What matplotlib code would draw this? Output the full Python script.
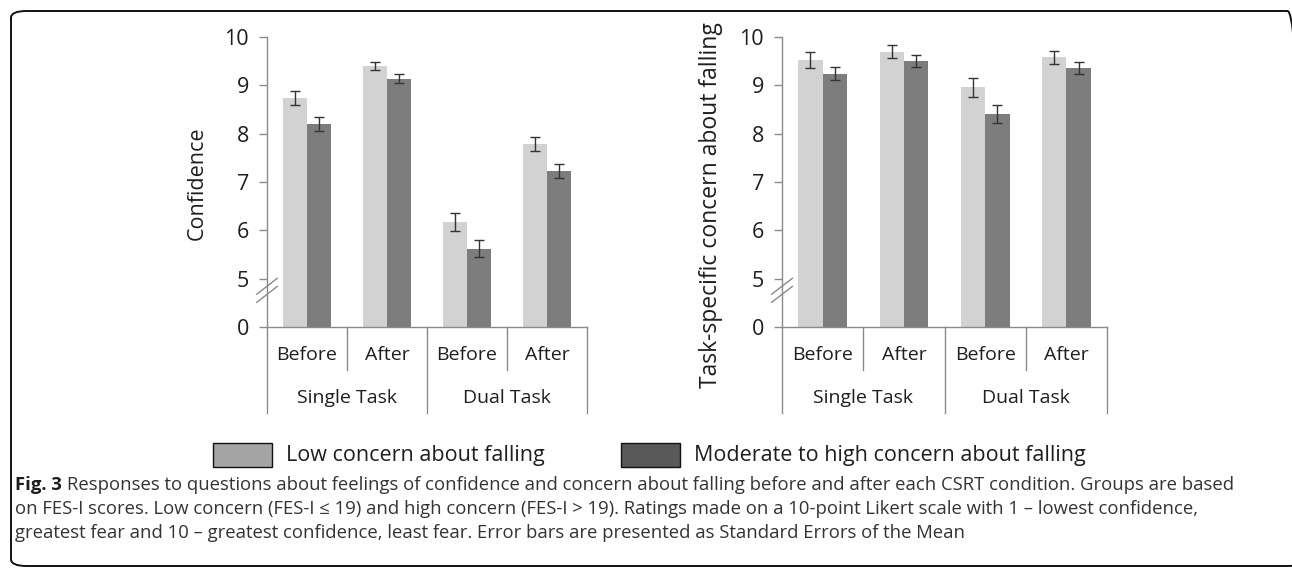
import numpy as np
import matplotlib.pyplot as plt
from matplotlib.patches import Rectangle, FancyBboxPatch

# conditions and groups
conditions = ["Before", "After", "Before", "After"]
tasks = ["Single Task", "Dual Task"]
groups = ["Low concern about falling", "Moderate to high concern about falling"]

# confidence ratings (left panel)
conf_low = [8.74, 9.40, 6.17, 7.79]
conf_low_se = [0.15, 0.08, 0.19, 0.15]
conf_high = [8.20, 9.14, 5.62, 7.23]
conf_high_se = [0.14, 0.09, 0.17, 0.14]

# task-specific concern (right panel)
conc_low = [9.52, 9.70, 8.96, 9.58]
conc_low_se = [0.17, 0.14, 0.20, 0.14]
conc_high = [9.24, 9.50, 8.41, 9.36]
conc_high_se = [0.13, 0.12, 0.18, 0.13]

ytick_vals = [0, 5, 6, 7, 8, 9, 10]

W, H = 1292, 569
fig = plt.figure(figsize=(W / 100, H / 100), dpi=100)
plt.rcParams['font.family'] = ['Open Sans', 'DejaVu Sans']

def fx(px):
    return px / W

def fy(py):
    return 1 - py / H

bar_light = "#d2d2d2"
bar_dark = "#7d7d7d"
axis_col = "#8a8a8a"
txt_col = "#1e1e1e"

# broken axis: 0 is drawn one unit below 5
def disp(v):
    return np.where(np.asarray(v) == 0, 4, v)


def panel(left, right, low, low_se, high, high_se, ylabel, lab_size, lab_y):
    ax = fig.add_axes([fx(left), fy(327), fx(right - left), fy(37) - fy(327)])
    x = np.arange(len(conditions))
    w = 0.3
    ax.bar(x - w / 2, np.array(low) - 4, w, bottom=4, color=bar_light)
    ax.bar(x + w / 2, np.array(high) - 4, w, bottom=4, color=bar_dark)
    ax.errorbar(x - w / 2, low, yerr=low_se, fmt='none', ecolor='#333333',
                elinewidth=1, capsize=3.5, capthick=1)
    ax.errorbar(x + w / 2, high, yerr=high_se, fmt='none', ecolor='#333333',
                elinewidth=1, capsize=3.5, capthick=1)
    ax.set_xlim(-0.5, len(conditions) - 0.5)
    ax.set_ylim(4, 10)
    ax.set_yticks(disp(ytick_vals))
    ax.set_yticklabels([str(v) for v in ytick_vals], fontsize=15.5, color=txt_col)
    ax.tick_params(axis='y', length=6, width=1, color=axis_col, pad=7)
    ax.set_xticks([])
    for s in ['top', 'right']:
        ax.spines[s].set_visible(False)
    for s in ['left', 'bottom']:
        ax.spines[s].set_color(axis_col)
        ax.spines[s].set_linewidth(1)
    ah = fy(37) - fy(327)
    ax.set_ylabel(ylabel, fontsize=lab_size, color=txt_col)
    ax.yaxis.set_label_coords(-59 / (right - left), (327 - lab_y) / (ah * H))

    # axis break marks
    tr = ax.transAxes
    for dy in [0, 0.028]:
        ax.plot([-0.032, 0.032], [0.085 + dy, 0.14 + dy], color=axis_col,
                lw=1, transform=tr, clip_on=False)

    # two-level category axis
    xt = ax.get_xaxis_transform()
    def ay(py):
        return -(py - 327) / (ah * H)
    for i, lab in enumerate(conditions):
        ax.text(i, ay(355), lab, transform=xt, ha='center', va='center',
                fontsize=14, color=txt_col)
    for xs in [0.5, 2.5]:
        ax.plot([xs, xs], [0, ay(370)], transform=xt, color=axis_col, lw=1,
                clip_on=False)
    for xs in [-0.5, 1.5, 3.5]:
        ax.plot([xs, xs], [0, ay(413)], transform=xt, color=axis_col, lw=1,
                clip_on=False)
    for j, t in enumerate(tasks):
        ax.text(0.5 + 2 * j, ay(398), t, transform=xt, ha='center', va='center',
                fontsize=14, color=txt_col)
    return ax


panel(267, 587, conf_low, conf_low_se, conf_high, conf_high_se, "Confidence",
      15.5, 183)
panel(782, 1107, conc_low, conc_low_se, conc_high, conc_high_se,
      "Task-specific concern about falling", 16.5, 205)

# legend
leg_cols = ["#a4a4a4", "#595959"]
leg_x = [213, 621]
for px, c, lab in zip(leg_x, leg_cols, groups):
    fig.patches.append(Rectangle((fx(px), fy(467)), fx(59), fy(443) - fy(467),
                                 transform=fig.transFigure, facecolor=c,
                                 edgecolor='#111111', lw=1))
    fig.text(fx(px + 73), fy(456), lab, fontsize=15.5, color=txt_col,
             va='center', ha='left')

# rounded frame
fig.patches.append(FancyBboxPatch((fx(11), fy(566)), fx(1292), fy(11) - fy(566),
                                  boxstyle="round,pad=0,rounding_size=0.012",
                                  transform=fig.transFigure, facecolor='none',
                                  edgecolor='#111111', lw=1.4))

# caption
cap_lines = [
    "Responses to questions about feelings of confidence and concern about falling before and after each CSRT condition. Groups are based",
    "on FES-I scores. Low concern (FES-I \u2264 19) and high concern (FES-I > 19). Ratings made on a 10-point Likert scale with 1 \u2013 lowest confidence,",
    "greatest fear and 10 \u2013 greatest confidence, least fear. Error bars are presented as Standard Errors of the Mean",
]
cap_size = 13.3
bold = fig.text(fx(15), fy(485), "Fig. 3", fontsize=cap_size, fontweight='bold',
                color=txt_col, va='center', ha='left')
fig.canvas.draw()
bb = bold.get_window_extent()
fig.text(fx(bb.x1 + 5), fy(485), cap_lines[0], fontsize=cap_size, color='#333333',
         va='center', ha='left')
fig.text(fx(15), fy(509), cap_lines[1], fontsize=cap_size, color='#333333',
         va='center', ha='left')
fig.text(fx(15), fy(533), cap_lines[2], fontsize=cap_size, color='#333333',
         va='center', ha='left')

fig.savefig("out.png", dpi=100)
